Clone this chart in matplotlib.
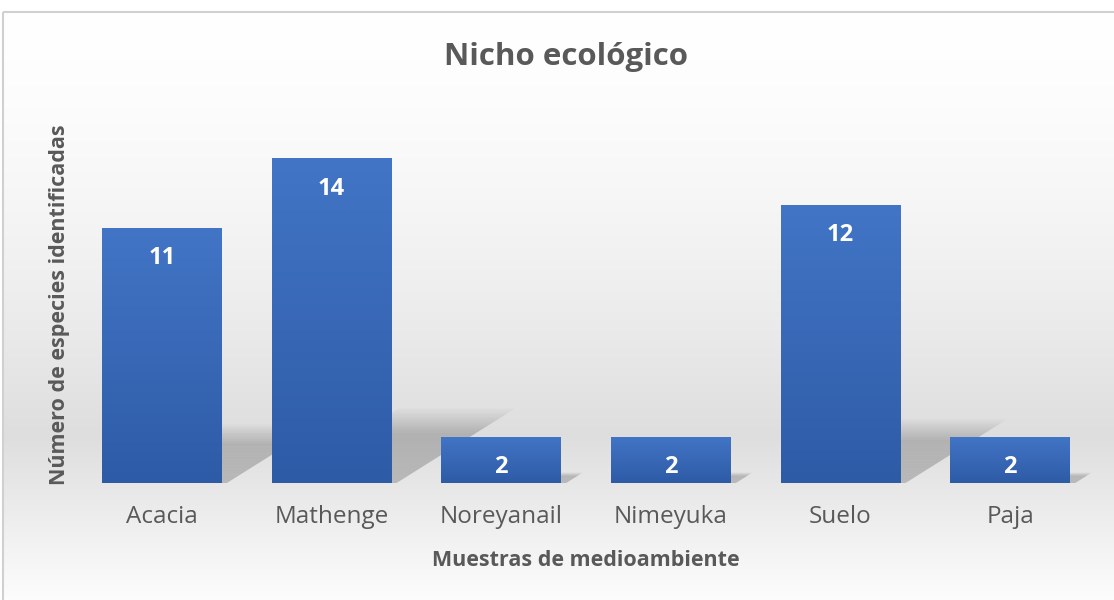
import matplotlib.pyplot as plt
import numpy as np
from matplotlib.patches import Rectangle, Polygon

plt.rcParams['font.family'] = ['Open Sans', 'DejaVu Sans']

categorias = ['Acacia', 'Mathenge', 'Noreyanail', 'Nimeyuka', 'Suelo', 'Paja']
especies = [11, 14, 2, 2, 12, 2]

gris = '#595959'
W, H = 1114, 600
fig = plt.figure(figsize=(W / 100, H / 100), dpi=100)

# fondo con degradado (estilo Excel)
bg = fig.add_axes([0, 0, 1, 1], zorder=0)
bg.set_xlim(0, W)
bg.set_ylim(H, 0)
bg.axis('off')
ys = np.linspace(0, 1, 300)
peak = 0.72
g = np.where(ys < peak, 1 - 0.13 * (ys / peak) ** 1.6, 0.87 + 0.12 * ((ys - peak) / (1 - peak)))
img = np.repeat(g[:, None], 2, axis=1)
img = np.stack([img, img, img], axis=2)
bg.imshow(img, extent=[3, W, H, 12], aspect='auto', interpolation='bilinear')
bg.add_patch(Rectangle((3, 12), W, H, fill=False, ec='#d0d0d0', lw=1.5))

ax = fig.add_axes([77 / W, 1 - 483 / H, (1095 - 77) / W, (483 - 112) / H], zorder=1)
ax.patch.set_alpha(0)
for s in ax.spines.values():
    s.set_visible(False)

x = np.arange(len(categorias))
ancho = 0.707

# sombras en perspectiva (suaves)
for xi, v in zip(x, especies):
    sh = 0.23 * v
    dx = 0.05 * v
    n = 40
    for k in range(n):
        f0, f1 = k / n, (k + 1) / n
        a = 0.2 if f0 < 0.65 else 0.2 * (1 - (f0 - 0.65) / 0.35)
        p = Polygon([(xi - ancho / 2 + dx * f0 + 0.05, sh * f0), (xi + ancho / 2 + dx * f0 + 0.03, sh * f0),
                     (xi + ancho / 2 + dx * f1 + 0.03, sh * f1), (xi - ancho / 2 + dx * f1 + 0.05, sh * f1)],
                    closed=True, fc='black', ec='none', alpha=a, zorder=1)
        ax.add_patch(p)

barras = ax.bar(x, especies, width=ancho, color='#4472c4', zorder=2)
grad = np.linspace(0, 1, 100)[:, None]
c_top = np.array([66, 117, 198]) / 255
c_bot = np.array([46, 91, 166]) / 255
cols = np.repeat((c_top + (c_bot - c_top) * grad)[:, None, :], 2, axis=1)
for b in barras:
    im = ax.imshow(cols, extent=[b.get_x(), b.get_x() + b.get_width(), 0, b.get_height()],
                   aspect='auto', zorder=3, origin='upper')
    im.set_clip_path(b)
    ax.text(b.get_x() + b.get_width() / 2, b.get_height() - 1.3, str(int(b.get_height())),
            ha='center', va='center', color='white', fontsize=17, fontweight='bold', zorder=4)

ax.set_xticks(x)
ax.set_xticklabels(categorias, fontsize=17.5, color=gris)
ax.tick_params(axis='x', length=0, pad=16)
ax.set_yticks([])
ax.set_xlim(-0.5, len(categorias) - 0.5)
ax.set_ylim(0, 16)

fig.text(566 / W, 1 - 57 / H, 'Nicho ecológico', ha='center', va='center',
         fontsize=22.5, fontweight='bold', color=gris)
fig.text(586 / W, 1 - 560 / H, 'Muestras de medioambiente', ha='center', va='center',
         fontsize=15.5, fontweight='bold', color=gris)
fig.text(60 / W, 1 - 305 / H, 'Número de especies identificadas', ha='center', va='center',
         rotation=90, fontsize=15.5, fontweight='bold', color=gris)

fig.savefig('out.png', dpi=100)
